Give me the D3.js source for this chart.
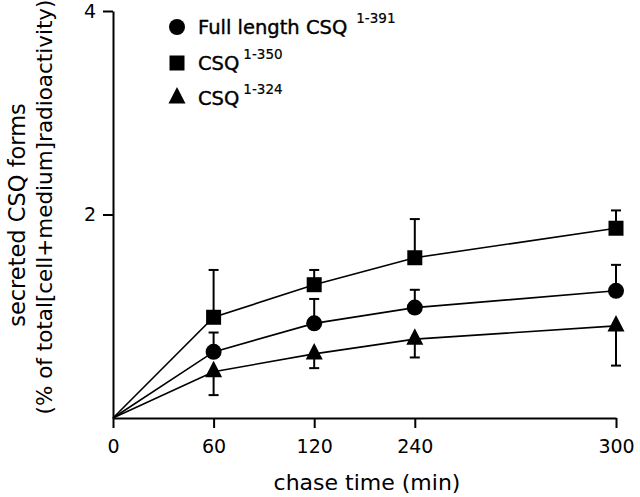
<!DOCTYPE html>
<html>
<head>
<meta charset="utf-8">
<script src="https://cdn.jsdelivr.net/npm/d3@7"></script>
<style>
  html, body { margin: 0; padding: 0; background: #fff; }
  svg { display: block; font-family: "DejaVu Sans", sans-serif; }
</style>
</head>
<body>
<svg id="chart" width="640" height="497"></svg>
<script>
// ---- data ----
const timeLabels = ["0", "60", "120", "240", "300"];
const timeSlots  = [0, 1, 2, 3, 5];          // axis is not linear in time: 300 sits two slots after 240
const fullLength = [0, 0.65, 0.93, 1.085, 1.25];
const fullErr    = [0, 0.19, 0.24, 0.175, 0.255];   // drawn upward
const csq350     = [0, 0.99, 1.31, 1.575, 1.865];
const csq350Err  = [0, 0.465, 0.145, 0.38, 0.175];  // drawn upward
const csq324     = [0, 0.455, 0.63, 0.775, 0.905];
const csq324Err  = [0, 0.23, 0.14, 0.18, 0.39];     // drawn downward
const yTicks     = [2, 4];
const legendNames = ["Full length CSQ", "CSQ", "CSQ"];
const legendSups  = ["1-391", "1-350", "1-324"];

const series = [
  { vals: fullLength, err: fullErr, dir: 1, shape: "circle" },
  { vals: csq350, err: csq350Err, dir: 1, shape: "square" },
  { vals: csq324, err: csq324Err, dir: -1, shape: "triangle" }
];

const svg = d3.select("#chart");
const x = d3.scaleLinear().domain([0, 5]).range([113, 616]);
const y = d3.scaleLinear().domain([0, 4]).range([418, 11]);

function marker(sel, shape) {
  if (shape === "circle") {
    sel.append("circle").attr("r", 8).attr("fill", "#000");
  } else if (shape === "square") {
    sel.append("rect").attr("x", -7.5).attr("y", -7.5).attr("width", 15).attr("height", 15).attr("fill", "#000");
  } else {
    // triangle, centroid at origin
    sel.append("path").attr("d", "M0,-11L8.5,5.5L-8.5,5.5Z").attr("fill", "#000");
  }
}

// axes
const xAxis = d3.axisBottom(x)
  .tickValues(timeSlots)
  .tickFormat((d, i) => timeLabels[i])
  .tickSize(10).tickSizeOuter(0).tickPadding(12);
const gx = svg.append("g").attr("transform", `translate(0,${y(0)})`).call(xAxis);

const yAxis = d3.axisLeft(y).tickValues(yTicks).tickFormat(d3.format("d"))
  .tickSize(10).tickSizeOuter(0).tickPadding(7);
const gy = svg.append("g").attr("transform", `translate(${x(0)},0)`).call(yAxis);

[gx, gy].forEach(g => {
  g.select(".domain").attr("stroke", "#000").attr("stroke-width", 2);
  g.selectAll(".tick line").attr("stroke", "#000").attr("stroke-width", 2);
  g.selectAll(".tick text").attr("fill", "#000").style("font-size", "19px").style("font-family", "DejaVu Sans");
});

// axis titles
svg.append("text").attr("x", 367).attr("y", 490)
  .attr("text-anchor", "middle").style("font-size", "22px").text("chase time (min)");
svg.append("text").attr("transform", "translate(25,215) rotate(-90)")
  .attr("text-anchor", "middle").style("font-size", "22.5px").text("secreted CSQ forms");
svg.append("text").attr("transform", "translate(52,207) rotate(-90)")
  .attr("text-anchor", "middle").style("font-size", "21.5px").text("(% of total[cell+medium]radioactivity)");

// lines
const line = d3.line().x((d, i) => x(timeSlots[i])).y(d => y(d));
series.forEach(s => {
  svg.append("path").attr("d", line(s.vals)).attr("fill", "none")
    .attr("stroke", "#000").attr("stroke-width", 1.6);
});

// error bars
series.forEach(s => {
  s.vals.forEach((v, i) => {
    if (i === 0) return;
    const cx = x(timeSlots[i]);
    const end = y(v + s.dir * s.err[i]);
    const g = svg.append("g").attr("stroke", "#000").attr("stroke-width", 2);
    g.append("line").attr("x1", cx).attr("x2", cx).attr("y1", y(v)).attr("y2", end);
    g.append("line").attr("x1", cx - 5).attr("x2", cx + 5).attr("y1", end).attr("y2", end);
  });
});

// markers
series.forEach(s => {
  s.vals.forEach((v, i) => {
    if (i === 0) return;
    const g = svg.append("g").attr("transform", `translate(${x(timeSlots[i])},${y(v)})`);
    marker(g, s.shape);
  });
});

// legend
const legendRows = [27, 63, 98];
series.forEach((s, i) => {
  const g = svg.append("g").attr("transform", `translate(177,${legendRows[i]})`);
  marker(g, s.shape);
  const t = svg.append("text").attr("x", 198).attr("y", legendRows[i] + 7)
    .style("font-size", "19.5px").attr("fill", "#000").attr("stroke", "#000").attr("stroke-width", 0.4);
  t.append("tspan").text(legendNames[i]);
  t.append("tspan").attr("dx", i === 0 ? 9 : 4).attr("dy", -11).style("font-size", "13.5px").attr("stroke-width", 0.2).text(legendSups[i]);
});
</script>
</body>
</html>
